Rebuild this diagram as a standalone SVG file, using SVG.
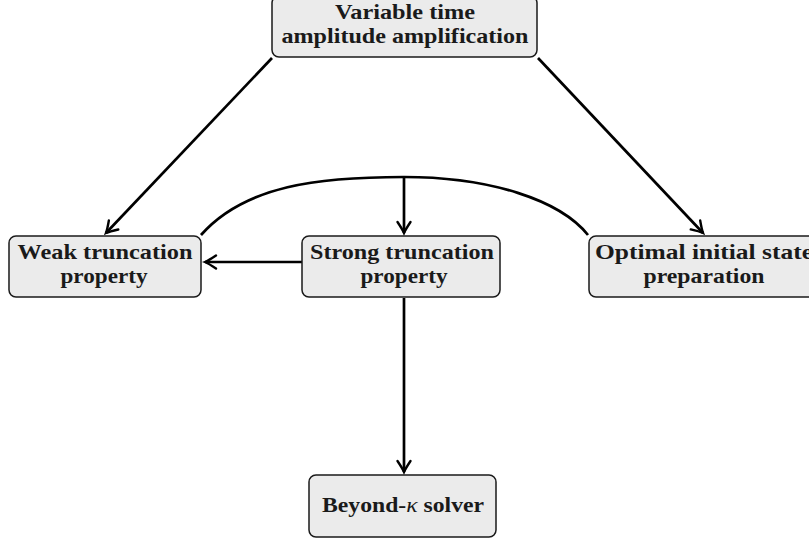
<svg xmlns="http://www.w3.org/2000/svg" width="809" height="539" viewBox="0 0 809 539">
<style>
.box{fill:#ebebeb;stroke:#1a1a1a;stroke-width:1.5}
.t{font-family:"Liberation Serif","DejaVu Serif",serif;font-weight:bold;font-size:21px;fill:#1a1a1a;text-anchor:middle}
.e{fill:none;stroke:#000;stroke-width:2.7}
</style>
<defs>
<marker id="ah" markerUnits="userSpaceOnUse" viewBox="-12 -8 14 16" refX="0" refY="0" markerWidth="14" markerHeight="16" orient="auto" overflow="visible">
<path d="M -11 -6.5 Q -3.5 -1.5 0 0 Q -3.5 1.5 -11 6.5" fill="none" stroke="#000" stroke-width="2.4" stroke-linecap="round"/>
</marker>
</defs>
<g id="connectors">
<path class="e" d="M 272 58 L 106 233" marker-end="url(#ah)"/>
<path class="e" d="M 538 58 L 703 233" marker-end="url(#ah)"/>
<path class="e" d="M 201 235 C 245 185, 320 177, 404 177 C 490 177, 560 200, 588 235"/>
<path class="e" d="M 404 177 L 404 233" marker-end="url(#ah)"/>
<path class="e" d="M 302 262 L 205 262" marker-end="url(#ah)"/>
<path class="e" d="M 404 298 L 404 472" marker-end="url(#ah)"/>
</g>
<g id="vtaa">
<rect class="box" x="272" y="-4" width="265" height="61" rx="7"/>
<text class="t" x="405" y="19" textLength="140" lengthAdjust="spacingAndGlyphs">Variable time</text>
<text class="t" x="405" y="43" textLength="247" lengthAdjust="spacingAndGlyphs">amplitude amplification</text>
</g>
<g id="weak">
<rect class="box" x="9" y="236" width="192" height="61" rx="7"/>
<text class="t" x="105" y="259" textLength="175" lengthAdjust="spacingAndGlyphs">Weak truncation</text>
<text class="t" x="104" y="283" textLength="87" lengthAdjust="spacingAndGlyphs">property</text>
</g>
<g id="strong">
<rect class="box" x="302" y="236" width="198" height="61" rx="7"/>
<text class="t" x="402" y="259" textLength="184" lengthAdjust="spacingAndGlyphs">Strong truncation</text>
<text class="t" x="404" y="283" textLength="87" lengthAdjust="spacingAndGlyphs">property</text>
</g>
<g id="optimal">
<rect class="box" x="589" y="236" width="229" height="61" rx="7"/>
<text class="t" x="704" y="259" textLength="218" lengthAdjust="spacingAndGlyphs">Optimal initial state</text>
<text class="t" x="704" y="283" textLength="121" lengthAdjust="spacingAndGlyphs">preparation</text>
</g>
<g id="beyond">
<rect class="box" x="309" y="475" width="187" height="62" rx="7"/>
<text class="t" x="403" y="512" textLength="162" lengthAdjust="spacingAndGlyphs">Beyond-<tspan font-style="italic" font-weight="normal">κ</tspan> solver</text>
</g>
</svg>
